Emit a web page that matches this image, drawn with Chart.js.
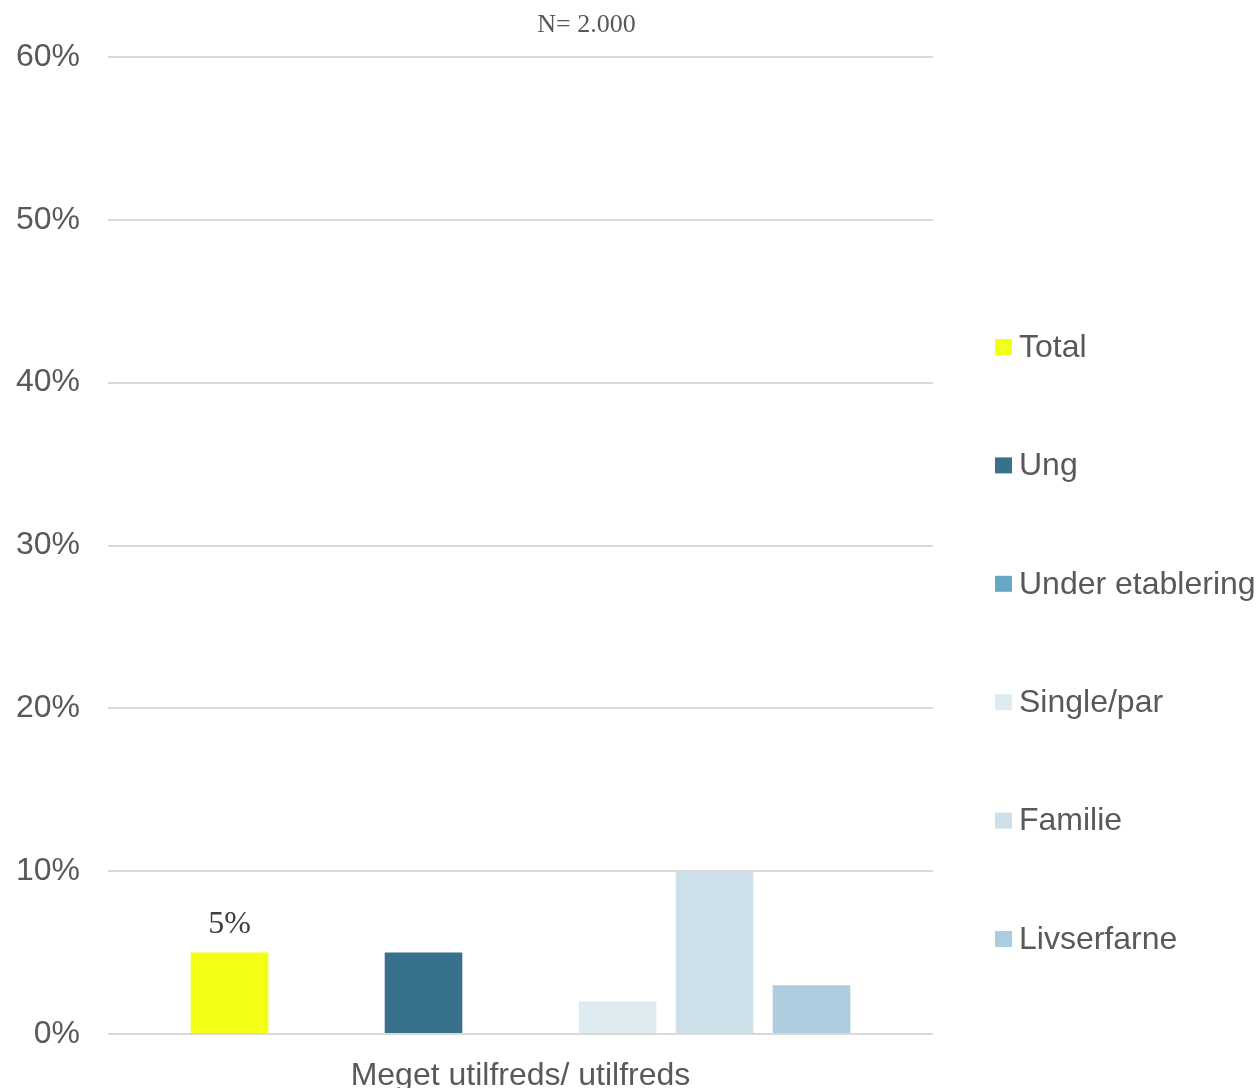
<!DOCTYPE html>
<html>
<head>
<meta charset="utf-8">
<title>Meget utilfreds/ utilfreds</title>
<script src="https://cdn.jsdelivr.net/npm/chart.js@4/dist/chart.umd.min.js"></script>
<style>
  html, body { margin: 0; padding: 0; background: #ffffff; }
  #wrap { width: 1258px; height: 1088px; position: relative; }
</style>
</head>
<body>
<div id="wrap"><canvas id="chart"></canvas></div>
<script>
// data (percent)
const categories = ['Meget utilfreds/ utilfreds'];
const seriesNames = ['Total', '', 'Ung', 'Under etablering', 'Single/par', 'Familie', 'Livserfarne'];
const seriesColors = ['#F3FF14', '#FFFFFF', '#38718E', '#69A6C4', '#DEEBF1', '#CDE0E9', '#ADCDDE'];
const total = [5];
const spacer = [null];
const ung = [5];
const underEtablering = [0];
const singlePar = [2];
const familie = [10];
const livserfarne = [3];
const seriesValues = [total, spacer, ung, underEtablering, singlePar, familie, livserfarne];
const labelledSeries = ['Total'];
const yTicks = [0, 10, 20, 30, 40, 50, 60];
const subtitle = 'N= 2.000';

const sansFont = '"Liberation Sans", Arial, sans-serif';
const serifFont = '"Liberation Serif", "Times New Roman", serif';
const textColor = '#595959';

// value label above the Total bar
const barLabels = {
  id: 'barLabels',
  afterDatasetsDraw(chart) {
    const ctx = chart.ctx;
    ctx.save();
    ctx.font = '32px ' + serifFont;
    ctx.fillStyle = '#404040';
    ctx.textAlign = 'center';
    ctx.textBaseline = 'alphabetic';
    chart.data.datasets.forEach((ds, i) => {
      if (!labelledSeries.includes(ds.label)) return;
      chart.getDatasetMeta(i).data.forEach((bar, j) => {
        ctx.fillText(ds.data[j] + '%', bar.x, bar.y - 20);
      });
    });
    ctx.restore();
  }
};

// "N= 2.000" note and the legend on the right
const extras = {
  id: 'extras',
  afterDraw(chart) {
    const ctx = chart.ctx;
    const area = chart.chartArea;
    ctx.save();
    ctx.font = '26px ' + serifFont;
    ctx.fillStyle = textColor;
    ctx.textAlign = 'center';
    ctx.textBaseline = 'alphabetic';
    ctx.fillText(subtitle, (area.left + area.right) / 2 + 66, 32);

    ctx.font = '32px ' + sansFont;
    ctx.textAlign = 'left';
    ctx.textBaseline = 'middle';
    let y = 347;
    chart.data.datasets.forEach(ds => {
      if (!ds.label) return;
      ctx.fillStyle = ds.backgroundColor;
      ctx.fillRect(area.right + 62, y - 8, 17, 16);
      ctx.fillStyle = textColor;
      ctx.fillText(ds.label, area.right + 86, y + 1);
      y += 118.4;
    });
    ctx.restore();
  }
};

const datasets = seriesNames.map((name, i) => ({
  label: name,
  data: seriesValues[i],
  backgroundColor: seriesColors[i],
  borderWidth: 0,
  categoryPercentage: 0.823,
  barPercentage: 0.8
}));

new Chart(document.getElementById('chart'), {
  type: 'bar',
  data: { labels: categories, datasets: datasets },
  options: {
    responsive: true,
    maintainAspectRatio: false,
    animation: false,
    layout: { padding: { top: 57, right: 325, left: 16, bottom: 0 } },
    plugins: {
      legend: { display: false },
      title: { display: false },
      tooltip: { enabled: false }
    },
    scales: {
      x: {
        grid: { display: false },
        border: { display: false },
        afterFit(scale) { scale.height = 54; },
        ticks: {
          color: textColor,
          padding: 18,
          font: { family: sansFont, size: 32, lineHeight: 1 }
        }
      },
      y: {
        min: yTicks[0],
        max: yTicks[yTicks.length - 1],
        afterBuildTicks(scale) {
          scale.ticks = yTicks.map(v => ({ value: v }));
        },
        afterFit(scale) { scale.width = 92; },
        grid: { color: '#D9D9D9', lineWidth: 2, drawTicks: false },
        border: { display: false },
        ticks: {
          color: textColor,
          padding: 28,
          font: { family: sansFont, size: 32 },
          callback: v => v + '%'
        }
      }
    }
  },
  plugins: [barLabels, extras]
});
</script>
</body>
</html>
